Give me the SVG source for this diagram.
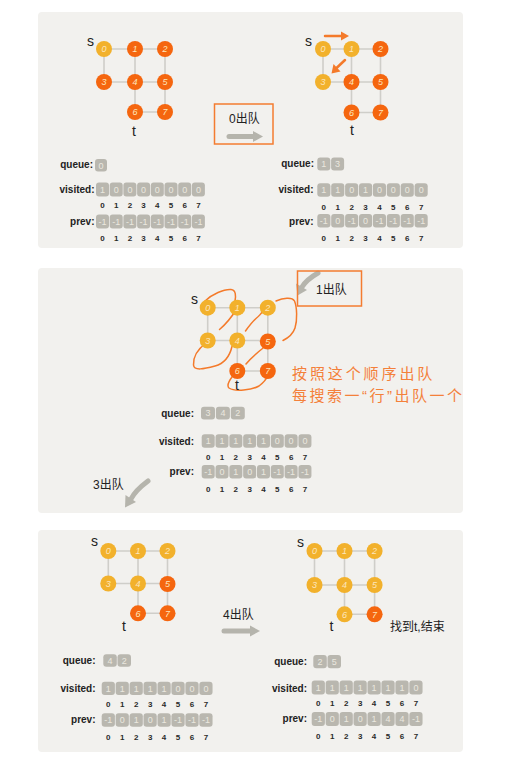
<svg xmlns="http://www.w3.org/2000/svg" width="511" height="763" viewBox="0 0 511 763">
<defs>
<style>
.panel{fill:#f2f1ee}
.edge{stroke:#cfcec9;stroke-width:1.6;fill:none}
.y{fill:#f2b12c}
.o{fill:#f5660f}
.nt{font-family:"Liberation Sans",sans-serif;font-size:9px;font-style:italic;text-anchor:middle;fill:#fde6bd}
.st{font-family:"Liberation Sans",sans-serif;font-size:14px;fill:#222}
.lbl{font-family:"Liberation Sans",sans-serif;font-size:10px;font-weight:bold;text-anchor:end;fill:#222}
.cell{fill:#b9b7af}
.ct{font-family:"Liberation Sans",sans-serif;font-size:9px;text-anchor:middle;fill:#ebe8df}
.ix{font-family:"Liberation Sans",sans-serif;font-size:8px;font-weight:bold;text-anchor:middle;fill:#2a2a2a}
.hw{font-family:"Liberation Sans","Noto Sans CJK SC",sans-serif;font-size:12px;fill:#222}
.garrow{stroke:#b5b4ac;stroke-width:5;stroke-linecap:round;fill:none}
.ghead{fill:#b5b4ac}
.obox{fill:none;stroke:#f47c30;stroke-width:1.5}
.ocurve{stroke:#f47a2a;stroke-width:1.5;fill:none;stroke-linecap:round}
.oarrow{stroke:#f47a2a;stroke-width:2.5;fill:none;stroke-linecap:round}
.ohead{fill:#f47a2a}
.cn{font-family:"Noto Sans CJK SC",sans-serif;font-size:15px;fill:#f4803a}
.q{font-family:"Liberation Sans",sans-serif}
</style>
</defs>

<!-- panels -->
<rect class="panel" x="38" y="12" width="425" height="236" rx="4"/>
<rect class="panel" x="38" y="268" width="425" height="245" rx="4"/>
<rect class="panel" x="38" y="530" width="425" height="222" rx="4"/>

<!-- connectors -->
<g id="connectors">
  <!-- panel 1 left graph edges -->
  <path class="edge" d="M104,49H165M104,49V82M135,49V112M165,49V82M104,82H165M165,82V112M135,112H165"/>
  <!-- panel 1 right -->
  <path class="edge" d="M323,49H380.5M323,49V82M351.5,49V112.5M380.5,49V82M323,82H380.5M380.5,82V112.5M351.5,112.5H380.5"/>
  <!-- panel 2 -->
  <path class="edge" d="M207.7,307.7H267.8M207.7,307.7V340.5M237.3,307.7V371M267.8,307.7V371M207.7,340.5H267.8M237.3,371H267.8"/>
  <!-- panel 3 left -->
  <path class="edge" d="M108.3,551H167.5M108.3,551V583.5M138,551V613.3M167.5,551V613.3M108.3,583.5H167.5M138,613.3H167.5"/>
  <!-- panel 3 right -->
  <path class="edge" d="M314.5,551H374.6M314.5,551V585M344.5,551V614.3M374.6,551V614.3M314.5,585H374.6M344.5,614.3H374.6"/>

  <!-- orange arrows panel 1 right -->
  <path class="oarrow" d="M325,36H342"/>
  <polygon class="ohead" points="341,31.5 349,36 341,40.5"/>
  <path class="oarrow" d="M345,60L336,68.5"/>
  <polygon class="ohead" points="333.5,64 331.5,73.5 340.5,71.5"/>

  <!-- orange traversal curves panel 2 -->
  <path class="ocurve" d="M205,301C212,294 224,289 231,289.5C236,290 236,296 235,301"/>
  <path class="ocurve" d="M236,310C231,318 226,324 219.5,329.5"/>
  <path class="ocurve" d="M206,343C198,349 193,357 193.5,365C194,371 204,369 215,366C226,363 230,355 232,346.5"/>
  <path class="ocurve" d="M245.5,331C249,326 252,322 256,318.5C259,316 261,314 262,312"/>
  <path class="ocurve" d="M276,301C283,298 292,296.5 294.5,301C297,307 297.5,320 295,328C293,334 288,338 283,340.5"/>
  <path class="ocurve" d="M265,346.5C258,352 251,358 246,364"/>
  <path class="ocurve" d="M232,377C229,381 227,386 229,388C235,392 252,390 259,386C263,383 266,380 267.5,376"/>

  <!-- gray arrows -->
  <path class="garrow" d="M229,136.5H255"/>
  <polygon class="ghead" points="253,131 263,136.5 253,142"/>
  <path class="garrow" d="M318,273C311,277 305,282 302,287"/>
  <polygon class="ghead" points="296,283.5 297.5,295.5 307,290"/>
  <path class="garrow" d="M148,481C140,487 134,493 131,499"/>
  <polygon class="ghead" points="125.5,495 125,507.5 136,502"/>
  <path class="garrow" d="M224,631H251"/>
  <polygon class="ghead" points="250,625.5 260,631 250,636.5"/>
</g>

<!-- boxes -->
<rect class="obox" x="214.5" y="104" width="58.5" height="40"/>
<rect class="obox" x="297.5" y="271" width="64" height="35"/>

<!-- step labels -->
<text class="hw" x="229" y="123">0出队</text>
<text class="hw" x="316" y="294">1出队</text>
<text class="hw" x="93" y="489">3出队</text>
<text class="hw" x="223" y="619">4出队</text>
<text class="hw" x="390" y="631">找到t,结束</text>

<text class="cn" x="292" y="379" letter-spacing="2.9">按照这个顺序出队</text>
<text class="cn" x="292" y="401" letter-spacing="2.5">每搜索一<tspan class="q">“</tspan>行<tspan class="q">”</tspan>出队一个</text>

<!-- ===== Panel 1 left graph ===== -->
<text class="st" x="87" y="46">s</text>
<text class="st" x="132" y="136">t</text>
<g id="p1a-n0"><circle class="y" cx="104" cy="49" r="8"/><text class="nt" x="104" y="52.2">0</text></g>
<g id="p1a-n1"><circle class="o" cx="135" cy="49" r="8"/><text class="nt" x="135" y="52.2">1</text></g>
<g id="p1a-n2"><circle class="o" cx="165" cy="49" r="8"/><text class="nt" x="165" y="52.2">2</text></g>
<g id="p1a-n3"><circle class="o" cx="104" cy="82" r="8"/><text class="nt" x="104" y="85.2">3</text></g>
<g id="p1a-n4"><circle class="o" cx="135" cy="82" r="8"/><text class="nt" x="135" y="85.2">4</text></g>
<g id="p1a-n5"><circle class="o" cx="165" cy="82" r="8"/><text class="nt" x="165" y="85.2">5</text></g>
<g id="p1a-n6"><circle class="o" cx="135" cy="112" r="8"/><text class="nt" x="135" y="115.2">6</text></g>
<g id="p1a-n7"><circle class="o" cx="165" cy="112" r="8"/><text class="nt" x="165" y="115.2">7</text></g>

<g id="p1a-queue">
<text class="lbl" x="93" y="168">queue:</text>
<rect class="cell" x="95" y="159" width="12" height="12.5" rx="3"/>
<text class="ct" x="101" y="168.5">0</text>
</g>
<g id="p1a-visited">
<text class="lbl" x="94.5" y="193">visited:</text>
<rect class="cell" x="96" y="182.5" width="13" height="14" rx="3"/>
<rect class="cell" x="109.7" y="182.5" width="13" height="14" rx="3"/>
<rect class="cell" x="123.4" y="182.5" width="13" height="14" rx="3"/>
<rect class="cell" x="137.1" y="182.5" width="13" height="14" rx="3"/>
<rect class="cell" x="150.8" y="182.5" width="13" height="14" rx="3"/>
<rect class="cell" x="164.5" y="182.5" width="13" height="14" rx="3"/>
<rect class="cell" x="178.2" y="182.5" width="13" height="14" rx="3"/>
<rect class="cell" x="191.9" y="182.5" width="13" height="14" rx="3"/>
<text class="ct" x="102.5 116.2 129.9 143.6 157.3 171 184.7 198.4" y="192.8">10000000</text>
<text class="ix" x="102.5 116.2 129.9 143.6 157.3 171 184.7 198.4" y="208">01234567</text>
</g>
<g id="p1a-prev">
<text class="lbl" x="94.5" y="225">prev:</text>
<rect class="cell" x="96" y="214.5" width="13" height="14" rx="3"/>
<rect class="cell" x="109.7" y="214.5" width="13" height="14" rx="3"/>
<rect class="cell" x="123.4" y="214.5" width="13" height="14" rx="3"/>
<rect class="cell" x="137.1" y="214.5" width="13" height="14" rx="3"/>
<rect class="cell" x="150.8" y="214.5" width="13" height="14" rx="3"/>
<rect class="cell" x="164.5" y="214.5" width="13" height="14" rx="3"/>
<rect class="cell" x="178.2" y="214.5" width="13" height="14" rx="3"/>
<rect class="cell" x="191.9" y="214.5" width="13" height="14" rx="3"/>
<text class="ct" y="224.8"><tspan x="102.5">-1</tspan><tspan x="116.2">-1</tspan><tspan x="129.9">-1</tspan><tspan x="143.6">-1</tspan><tspan x="157.3">-1</tspan><tspan x="171">-1</tspan><tspan x="184.7">-1</tspan><tspan x="198.4">-1</tspan></text>
<text class="ix" x="102.5 116.2 129.9 143.6 157.3 171 184.7 198.4" y="241">01234567</text>
</g>

<!-- ===== Panel 1 right graph ===== -->
<text class="st" x="305" y="46">s</text>
<text class="st" x="350" y="134.5">t</text>
<g id="p1b-n0"><circle class="y" cx="323" cy="49" r="8"/><text class="nt" x="323" y="52.2">0</text></g>
<g id="p1b-n1"><circle class="y" cx="351.5" cy="49" r="8"/><text class="nt" x="351.5" y="52.2">1</text></g>
<g id="p1b-n2"><circle class="o" cx="380.5" cy="49" r="8"/><text class="nt" x="380.5" y="52.2">2</text></g>
<g id="p1b-n3"><circle class="y" cx="323" cy="82" r="8"/><text class="nt" x="323" y="85.2">3</text></g>
<g id="p1b-n4"><circle class="o" cx="351.5" cy="82" r="8"/><text class="nt" x="351.5" y="85.2">4</text></g>
<g id="p1b-n5"><circle class="o" cx="380.5" cy="82" r="8"/><text class="nt" x="380.5" y="85.2">5</text></g>
<g id="p1b-n6"><circle class="o" cx="351.5" cy="112.5" r="8"/><text class="nt" x="351.5" y="115.7">6</text></g>
<g id="p1b-n7"><circle class="o" cx="380.5" cy="112.5" r="8"/><text class="nt" x="380.5" y="115.7">7</text></g>

<g id="p1b-queue">
<text class="lbl" x="314" y="167">queue:</text>
<rect class="cell" x="317.3" y="157.5" width="13" height="13" rx="3"/>
<rect class="cell" x="331.1" y="157.5" width="13" height="13" rx="3"/>
<text class="ct" x="323.8 337.6" y="167.3">13</text>
</g>
<g id="p1b-visited">
<text class="lbl" x="313.5" y="193">visited:</text>
<rect class="cell" x="317.3" y="183.3" width="13.1" height="13.5" rx="3"/>
<rect class="cell" x="331.2" y="183.3" width="13.1" height="13.5" rx="3"/>
<rect class="cell" x="345.1" y="183.3" width="13.1" height="13.5" rx="3"/>
<rect class="cell" x="359" y="183.3" width="13.1" height="13.5" rx="3"/>
<rect class="cell" x="372.9" y="183.3" width="13.1" height="13.5" rx="3"/>
<rect class="cell" x="386.8" y="183.3" width="13.1" height="13.5" rx="3"/>
<rect class="cell" x="400.7" y="183.3" width="13.1" height="13.5" rx="3"/>
<rect class="cell" x="414.6" y="183.3" width="13.1" height="13.5" rx="3"/>
<text class="ct" x="323.85 337.75 351.65 365.55 379.45 393.35 407.25 421.15" y="193.3">11010000</text>
<text class="ix" x="323.85 337.75 351.65 365.55 379.45 393.35 407.25 421.15" y="209.7">01234567</text>
</g>
<g id="p1b-prev">
<text class="lbl" x="313.5" y="224.5">prev:</text>
<rect class="cell" x="317.3" y="214" width="13.1" height="13.5" rx="3"/>
<rect class="cell" x="331.2" y="214" width="13.1" height="13.5" rx="3"/>
<rect class="cell" x="345.1" y="214" width="13.1" height="13.5" rx="3"/>
<rect class="cell" x="359" y="214" width="13.1" height="13.5" rx="3"/>
<rect class="cell" x="372.9" y="214" width="13.1" height="13.5" rx="3"/>
<rect class="cell" x="386.8" y="214" width="13.1" height="13.5" rx="3"/>
<rect class="cell" x="400.7" y="214" width="13.1" height="13.5" rx="3"/>
<rect class="cell" x="414.6" y="214" width="13.1" height="13.5" rx="3"/>
<text class="ct" y="224"><tspan x="323.85">-1</tspan><tspan x="337.75">0</tspan><tspan x="351.65">-1</tspan><tspan x="365.55">0</tspan><tspan x="379.45">-1</tspan><tspan x="393.35">-1</tspan><tspan x="407.25">-1</tspan><tspan x="421.15">-1</tspan></text>
<text class="ix" x="323.85 337.75 351.65 365.55 379.45 393.35 407.25 421.15" y="241.3">01234567</text>
</g>

<!-- ===== Panel 2 graph ===== -->
<text class="st" x="191" y="304">s</text>
<text class="st" x="235" y="389.5">t</text>
<g id="p2-n0"><circle class="y" cx="207.7" cy="307.7" r="8"/><text class="nt" x="207.7" y="310.9">0</text></g>
<g id="p2-n1"><circle class="y" cx="237.3" cy="307.7" r="8"/><text class="nt" x="237.3" y="310.9">1</text></g>
<g id="p2-n2"><circle class="y" cx="267.8" cy="307.7" r="8"/><text class="nt" x="267.8" y="310.9">2</text></g>
<g id="p2-n3"><circle class="y" cx="207.7" cy="340.5" r="8"/><text class="nt" x="207.7" y="343.7">3</text></g>
<g id="p2-n4"><circle class="y" cx="237.3" cy="340.5" r="8"/><text class="nt" x="237.3" y="343.7">4</text></g>
<g id="p2-n5"><circle class="o" cx="267.8" cy="341.5" r="8"/><text class="nt" x="267.8" y="344.7">5</text></g>
<g id="p2-n6"><circle class="o" cx="237.3" cy="371" r="8"/><text class="nt" x="237.3" y="374.2">6</text></g>
<g id="p2-n7"><circle class="o" cx="267.8" cy="371" r="8"/><text class="nt" x="267.8" y="374.2">7</text></g>

<g id="p2-queue">
<text class="lbl" x="194" y="416.5">queue:</text>
<rect class="cell" x="201" y="406.7" width="14" height="12.8" rx="3"/>
<rect class="cell" x="215.9" y="406.7" width="14" height="12.8" rx="3"/>
<rect class="cell" x="230.8" y="406.7" width="14" height="12.8" rx="3"/>
<text class="ct" x="208 222.9 237.8" y="416.3">342</text>
</g>
<g id="p2-visited">
<text class="lbl" x="194" y="444.5">visited:</text>
<rect class="cell" x="201.7" y="434.3" width="13" height="13.4" rx="3"/>
<rect class="cell" x="215.52" y="434.3" width="13" height="13.4" rx="3"/>
<rect class="cell" x="229.34" y="434.3" width="13" height="13.4" rx="3"/>
<rect class="cell" x="243.16" y="434.3" width="13" height="13.4" rx="3"/>
<rect class="cell" x="256.98" y="434.3" width="13" height="13.4" rx="3"/>
<rect class="cell" x="270.8" y="434.3" width="13" height="13.4" rx="3"/>
<rect class="cell" x="284.62" y="434.3" width="13" height="13.4" rx="3"/>
<rect class="cell" x="298.44" y="434.3" width="13" height="13.4" rx="3"/>
<text class="ct" x="208.2 222.02 235.84 249.66 263.48 277.3 291.12 304.94" y="444.3">11111000</text>
<text class="ix" x="208.2 222.02 235.84 249.66 263.48 277.3 291.12 304.94" y="459.7">01234567</text>
</g>
<g id="p2-prev">
<text class="lbl" x="194" y="474.5">prev:</text>
<rect class="cell" x="201.7" y="465" width="13" height="13.4" rx="3"/>
<rect class="cell" x="215.52" y="465" width="13" height="13.4" rx="3"/>
<rect class="cell" x="229.34" y="465" width="13" height="13.4" rx="3"/>
<rect class="cell" x="243.16" y="465" width="13" height="13.4" rx="3"/>
<rect class="cell" x="256.98" y="465" width="13" height="13.4" rx="3"/>
<rect class="cell" x="270.8" y="465" width="13" height="13.4" rx="3"/>
<rect class="cell" x="284.62" y="465" width="13" height="13.4" rx="3"/>
<rect class="cell" x="298.44" y="465" width="13" height="13.4" rx="3"/>
<text class="ct" y="475"><tspan x="208.2">-1</tspan><tspan x="222.02">0</tspan><tspan x="235.84">1</tspan><tspan x="249.66">0</tspan><tspan x="263.48">1</tspan><tspan x="277.3">-1</tspan><tspan x="291.12">-1</tspan><tspan x="304.94">-1</tspan></text>
<text class="ix" x="208.2 222.02 235.84 249.66 263.48 277.3 291.12 304.94" y="492">01234567</text>
</g>

<!-- ===== Panel 3 left graph ===== -->
<text class="st" x="91" y="546">s</text>
<text class="st" x="122" y="631">t</text>
<g id="p3a-n0"><circle class="y" cx="108.3" cy="551" r="8"/><text class="nt" x="108.3" y="554.2">0</text></g>
<g id="p3a-n1"><circle class="y" cx="138" cy="551" r="8"/><text class="nt" x="138" y="554.2">1</text></g>
<g id="p3a-n2"><circle class="y" cx="167.5" cy="551" r="8"/><text class="nt" x="167.5" y="554.2">2</text></g>
<g id="p3a-n3"><circle class="y" cx="108.3" cy="583.5" r="8"/><text class="nt" x="108.3" y="586.7">3</text></g>
<g id="p3a-n4"><circle class="y" cx="138" cy="583.5" r="8"/><text class="nt" x="138" y="586.7">4</text></g>
<g id="p3a-n5"><circle class="o" cx="167.5" cy="584" r="8"/><text class="nt" x="167.5" y="587.2">5</text></g>
<g id="p3a-n6"><circle class="o" cx="138" cy="613.3" r="8"/><text class="nt" x="138" y="616.5">6</text></g>
<g id="p3a-n7"><circle class="o" cx="167.5" cy="613.3" r="8"/><text class="nt" x="167.5" y="616.5">7</text></g>

<g id="p3a-queue">
<text class="lbl" x="95.5" y="663.5">queue:</text>
<rect class="cell" x="103.3" y="654.3" width="13.5" height="12.4" rx="3"/>
<rect class="cell" x="117.5" y="654.3" width="13.5" height="12.4" rx="3"/>
<text class="ct" x="110 124.2" y="663.7">42</text>
</g>
<g id="p3a-visited">
<text class="lbl" x="95.5" y="691.5">visited:</text>
<rect class="cell" x="101.7" y="681.7" width="13.2" height="13.3" rx="3"/>
<rect class="cell" x="115.65" y="681.7" width="13.2" height="13.3" rx="3"/>
<rect class="cell" x="129.6" y="681.7" width="13.2" height="13.3" rx="3"/>
<rect class="cell" x="143.55" y="681.7" width="13.2" height="13.3" rx="3"/>
<rect class="cell" x="157.5" y="681.7" width="13.2" height="13.3" rx="3"/>
<rect class="cell" x="171.45" y="681.7" width="13.2" height="13.3" rx="3"/>
<rect class="cell" x="185.4" y="681.7" width="13.2" height="13.3" rx="3"/>
<rect class="cell" x="199.35" y="681.7" width="13.2" height="13.3" rx="3"/>
<text class="ct" x="108.3 122.25 136.2 150.15 164.1 178.05 192 205.95" y="691.6">11111000</text>
<text class="ix" x="108.3 122.25 136.2 150.15 164.1 178.05 192 205.95" y="707.3">01234567</text>
</g>
<g id="p3a-prev">
<text class="lbl" x="95.5" y="722.5">prev:</text>
<rect class="cell" x="101.7" y="713.3" width="13.2" height="13.4" rx="3"/>
<rect class="cell" x="115.65" y="713.3" width="13.2" height="13.4" rx="3"/>
<rect class="cell" x="129.6" y="713.3" width="13.2" height="13.4" rx="3"/>
<rect class="cell" x="143.55" y="713.3" width="13.2" height="13.4" rx="3"/>
<rect class="cell" x="157.5" y="713.3" width="13.2" height="13.4" rx="3"/>
<rect class="cell" x="171.45" y="713.3" width="13.2" height="13.4" rx="3"/>
<rect class="cell" x="185.4" y="713.3" width="13.2" height="13.4" rx="3"/>
<rect class="cell" x="199.35" y="713.3" width="13.2" height="13.4" rx="3"/>
<text class="ct" y="723.2"><tspan x="108.3">-1</tspan><tspan x="122.25">0</tspan><tspan x="136.2">1</tspan><tspan x="150.15">0</tspan><tspan x="164.1">1</tspan><tspan x="178.05">-1</tspan><tspan x="192">-1</tspan><tspan x="205.95">-1</tspan></text>
<text class="ix" x="108.3 122.25 136.2 150.15 164.1 178.05 192 205.95" y="739.7">01234567</text>
</g>

<!-- ===== Panel 3 right graph ===== -->
<text class="st" x="297" y="547">s</text>
<text class="st" x="329.5" y="631">t</text>
<g id="p3b-n0"><circle class="y" cx="314.5" cy="551" r="8"/><text class="nt" x="314.5" y="554.2">0</text></g>
<g id="p3b-n1"><circle class="y" cx="344.5" cy="551" r="8"/><text class="nt" x="344.5" y="554.2">1</text></g>
<g id="p3b-n2"><circle class="y" cx="374.6" cy="551" r="8"/><text class="nt" x="374.6" y="554.2">2</text></g>
<g id="p3b-n3"><circle class="y" cx="314.5" cy="585" r="8"/><text class="nt" x="314.5" y="588.2">3</text></g>
<g id="p3b-n4"><circle class="y" cx="344.5" cy="585" r="8"/><text class="nt" x="344.5" y="588.2">4</text></g>
<g id="p3b-n5"><circle class="y" cx="374.6" cy="585" r="8"/><text class="nt" x="374.6" y="588.2">5</text></g>
<g id="p3b-n6"><circle class="y" cx="344.5" cy="614.3" r="8"/><text class="nt" x="344.5" y="617.5">6</text></g>
<g id="p3b-n7"><circle class="o" cx="374.6" cy="614.3" r="8"/><text class="nt" x="374.6" y="617.5">7</text></g>

<g id="p3b-queue">
<text class="lbl" x="307" y="665">queue:</text>
<rect class="cell" x="313.3" y="655" width="13.5" height="13.3" rx="3"/>
<rect class="cell" x="327.5" y="655" width="13.5" height="13.3" rx="3"/>
<text class="ct" x="320 334.2" y="664.9">25</text>
</g>
<g id="p3b-visited">
<text class="lbl" x="307" y="692">visited:</text>
<rect class="cell" x="311.7" y="680.5" width="13.2" height="14" rx="3"/>
<rect class="cell" x="325.65" y="680.5" width="13.2" height="14" rx="3"/>
<rect class="cell" x="339.6" y="680.5" width="13.2" height="14" rx="3"/>
<rect class="cell" x="353.55" y="680.5" width="13.2" height="14" rx="3"/>
<rect class="cell" x="367.5" y="680.5" width="13.2" height="14" rx="3"/>
<rect class="cell" x="381.45" y="680.5" width="13.2" height="14" rx="3"/>
<rect class="cell" x="395.4" y="680.5" width="13.2" height="14" rx="3"/>
<rect class="cell" x="409.35" y="680.5" width="13.2" height="14" rx="3"/>
<text class="ct" x="318.3 332.25 346.2 360.15 374.1 388.05 402 415.95" y="690.8">11111110</text>
<text class="ix" x="318.3 332.25 346.2 360.15 374.1 388.05 402 415.95" y="706">01234567</text>
</g>
<g id="p3b-prev">
<text class="lbl" x="307" y="721.5">prev:</text>
<rect class="cell" x="311.7" y="712" width="13.2" height="14" rx="3"/>
<rect class="cell" x="325.65" y="712" width="13.2" height="14" rx="3"/>
<rect class="cell" x="339.6" y="712" width="13.2" height="14" rx="3"/>
<rect class="cell" x="353.55" y="712" width="13.2" height="14" rx="3"/>
<rect class="cell" x="367.5" y="712" width="13.2" height="14" rx="3"/>
<rect class="cell" x="381.45" y="712" width="13.2" height="14" rx="3"/>
<rect class="cell" x="395.4" y="712" width="13.2" height="14" rx="3"/>
<rect class="cell" x="409.35" y="712" width="13.2" height="14" rx="3"/>
<text class="ct" y="722.3"><tspan x="318.3">-1</tspan><tspan x="332.25">0</tspan><tspan x="346.2">1</tspan><tspan x="360.15">0</tspan><tspan x="374.1">1</tspan><tspan x="388.05">4</tspan><tspan x="402">4</tspan><tspan x="415.95">-1</tspan></text>
<text class="ix" x="318.3 332.25 346.2 360.15 374.1 388.05 402 415.95" y="738.7">01234567</text>
</g>
</svg>
